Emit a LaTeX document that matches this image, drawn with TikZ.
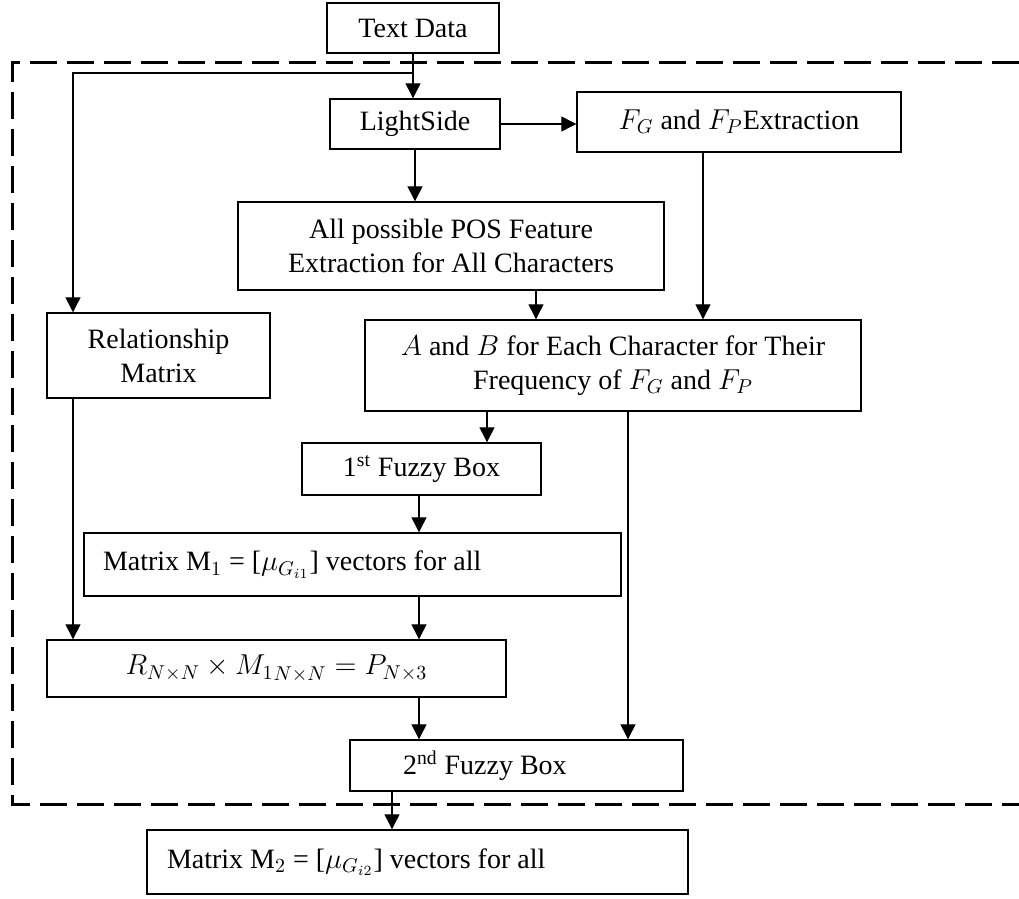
\documentclass[tikz,border=0pt]{standalone}
\usepackage{fontspec}
\setmainfont{Liberation Serif}
\usetikzlibrary{arrows.meta}
\begin{document}
\begin{tikzpicture}[x=0.5pt,y=-0.5pt,
  box/.style={draw,line width=0.7pt,inner sep=0pt,align=center,
    font=\fontsize{14}{17}\selectfont},
  arr/.style={line width=0.65pt,-{Triangle[length=7.5pt,width=7.5pt]}},
  dashbox/.style={line width=1.5pt,dash pattern=on 13.5pt off 5pt}]
\useasboundingbox (0,0) rectangle (1019,899);
% dashed frame
\draw[dashbox] (1019,63) -- (12,63) -- (12,804) -- (1019,804);
% nodes
\node[box,minimum width=172*0.5pt,minimum height=50*0.5pt] (td) at (413,28) {Text Data};
\node[box,minimum width=170*0.5pt,minimum height=50*0.5pt] (ls) at (415,124) {LightSide};
\node[box,minimum width=324*0.5pt,minimum height=60*0.5pt] (fg) at (739,122) {$F_G$ and $F_P$Extraction};
\node[box,minimum width=426*0.5pt,minimum height=88*0.5pt] (pos) at (451,246) {All possible POS Feature\\Extraction for All Characters};
\node[box,minimum width=223*0.5pt,minimum height=85*0.5pt] (rm) at (158.5,355.5) {Relationship\\Matrix};
\node[box,minimum width=496*0.5pt,minimum height=91*0.5pt] (ab) at (613,365.5) {$A$ and $B$ for Each Character for Their\\Frequency of $F_G$ and $F_P$};
\node[box,minimum width=239*0.5pt,minimum height=52*0.5pt] (f1) at (421.5,469) {1\textsuperscript{st} Fuzzy Box};
\node[box,minimum height=63*0.5pt,inner xsep=9.5pt,text width=249.5pt,align=flush left] (m1) at (352.5,564.5) {Matrix M$_1$ = [$\mu_{G_{i1}}$] vectors for all};
\node[box,minimum width=459*0.5pt,minimum height=57*0.5pt] (r) at (276.5,668.5) {$R_{N\times N}\times {M_1}_{N\times N} = P_{N\times 3}$};
\node[box,minimum height=51*0.5pt,inner xsep=26.5pt,text width=113.5pt,align=flush left] (f2) at (516.5,765.5) {2\textsuperscript{nd} Fuzzy Box};
\node[box,minimum height=64*0.5pt,inner xsep=10pt,text width=250.5pt,align=flush left] (m2) at (417.5,862) {Matrix M$_2$ = [$\mu_{G_{i2}}$] vectors for all};
% helper x positions
\coordinate (x73) at (73,0);
\coordinate (x419) at (419,0);
\coordinate (x487) at (487,0);
\coordinate (x536) at (536,0);
\coordinate (x628) at (628,0);
\coordinate (x703) at (703,0);
\coordinate (x392) at (392,0);
\coordinate (x415) at (415,0);
\coordinate (j1) at (413,73);
% connectors
\draw[arr] (td.south) -- (td.south |- ls.north);
\draw[arr] (j1) -| (rm.north -| x73);
\draw[arr] (ls.east) -- (ls.east -| fg.west);
\draw[arr] (ls.south -| x415) -- (pos.north -| x415);
\draw[arr] (pos.south -| x536) -- (ab.north -| x536);
\draw[arr] (fg.south -| x703) -- (ab.north -| x703);
\draw[arr] (ab.south -| x487) -- (f1.north -| x487);
\draw[arr] (ab.south -| x628) -- (f2.north -| x628);
\draw[arr] (f1.south -| x419) -- (m1.north -| x419);
\draw[arr] (rm.south -| x73) -- (r.north -| x73);
\draw[arr] (m1.south -| x419) -- (r.north -| x419);
\draw[arr] (r.south -| x419) -- (f2.north -| x419);
\draw[arr] (f2.south -| x392) -- (m2.north -| x392);
\end{tikzpicture}
\end{document}
